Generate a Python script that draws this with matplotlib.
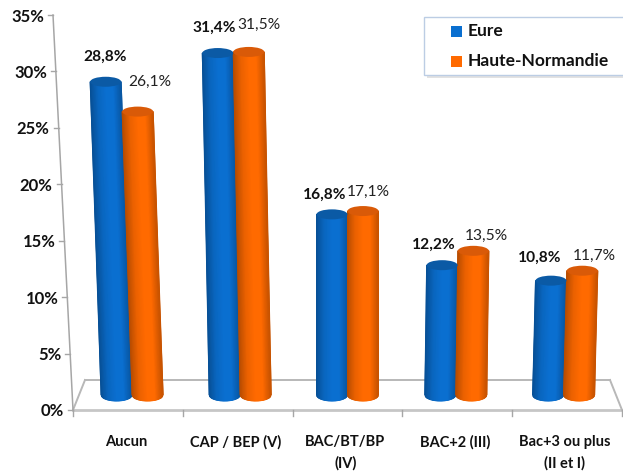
import numpy as np
import matplotlib
matplotlib.use("Agg")
import matplotlib.pyplot as plt
from matplotlib.patches import Ellipse, Rectangle
from matplotlib.colors import LinearSegmentedColormap, to_rgb

categories = ["Aucun", "CAP / BEP (V)", "BAC/BT/BP\n(IV)", "BAC+2 (III)", "Bac+3 ou plus\n(II et I)"]
eure = [28.8, 31.4, 16.8, 12.2, 10.8]
haute_normandie = [26.1, 31.5, 17.1, 13.5, 11.7]
eure_labels = ["28,8%", "31,4%", "16,8%", "12,2%", "10,8%"]
hn_labels = ["26,1%", "31,5%", "17,1%", "13,5%", "11,7%"]
yticks = [0, 5, 10, 15, 20, 25, 30, 35]
series_names = ["Eure", "Haute-Normandie"]

W, H = 623, 472
plt.rcParams["font.family"] = ["Lato", "DejaVu Sans"]
fig = plt.figure(figsize=(W / 100, H / 100), dpi=100)
L, R = 73, 622


def make_axes(bottom, top):
    a = fig.add_axes([L / W, 1 - bottom / H, (R - L) / W, (bottom - top) / H])
    a.set_xlim(-0.5, 4.5)
    a.set_ylim(0, 35)
    a.patch.set_alpha(0)
    a.axis("off")
    return a


# frame plane (axis, floor) and bar plane (slightly smaller scale, further back)
fr = make_axes(410, 15)
ax = make_axes(400, 13.25)

BLACK = "#111111"
GRAY = "#b8b8b8"
pxx = 5 / (R - L)
pxy_f = 35 / 395
pxy = 35 / 386.75

# floor
fr.plot([-0.5, 4.5], [0, 0], color="#c6c6c6", lw=2, clip_on=False)
fr.plot([-0.5 + 12 * pxx, 4.5 - 12 * pxx], [30 * pxy_f] * 2, color=GRAY, lw=1.4, clip_on=False)
fr.plot([-0.5, -0.5 + 12 * pxx], [0, 30 * pxy_f], color=GRAY, lw=1.4, clip_on=False)
fr.plot([4.5, 4.5 - 12 * pxx], [0, 30 * pxy_f], color=GRAY, lw=1.4, clip_on=False)

# slanted value axis
top_shift = -20 * pxx
fr.plot([-0.5, -0.5 + top_shift], [0, 35], color="#a6a6a6", lw=1.1, clip_on=False)
for v in yticks:
    x = -0.5 + top_shift * v / 35
    fr.plot([x - 5 * pxx, x], [v, v], color="#a6a6a6", lw=1, clip_on=False)
    fr.text(x - 9 * pxx, v - 1.5 * pxy_f, f"{v}%", ha="right", va="center", fontsize=12,
            fontweight="bold", color=BLACK, clip_on=False)

# category ticks and labels
for k in range(6):
    fr.plot([k - 0.5, k - 0.5], [0, -6 * pxy_f], color="#a6a6a6", lw=1, clip_on=False)
for i, cat in enumerate(categories):
    for j, line in enumerate(cat.split("\n")):
        fr.text(i - 0.02, (-32 - 21 * j) * pxy_f, line, ha="center", va="center",
                fontsize=10.5, fontweight="bold", color=BLACK, clip_on=False)

width = 31 * pxx
centre_shift = [4.2, 2.5, 0, -1.5, -3.5]
lean = [-0.38, -0.22, 0.0, 0.15, 0.27]


def shade(col):
    c = np.array(to_rgb(col))
    return LinearSegmentedColormap.from_list("s", [c * 0.72, c * 0.92, c, c, c * 0.78], N=256)


def cylinder(x0, val, col, topcol, slope):
    dx = slope * val * pxx
    ry = 5 * pxy
    t = np.linspace(0, 1, 41)
    drop = 6 * pxy * np.sqrt(np.clip(1 - (2 * t - 1) ** 2, 0, None))
    X = np.vstack([x0 + t * width, x0 + dx + t * width])
    Y = np.vstack([5 * pxy - drop, np.full_like(t, val)])
    C = np.vstack([t, t])
    ax.pcolormesh(X, Y, C, shading="gouraud", cmap=shade(col), vmin=0, vmax=1, zorder=3, clip_on=False)
    ax.add_patch(Ellipse((x0 + dx + width / 2, val), width, 2 * ry, fc=topcol, ec="none", zorder=4, clip_on=False))
    return x0 + dx + width / 2


# label offsets from the top centre of each cylinder, in pixels
offs_e = [(-1, 25), (-4, 25), (-7, 20), (-8.5, 20), (-11, 23)]
offs_h = [(12, 30), (10.5, 27), (5, 19), (13.5, 15), (12.5, 15)]
for i in range(5):
    left = i - width + centre_shift[i] * pxx
    xe = cylinder(left, eure[i], "#0a6fd0", "#0b5aa5", lean[i])
    xh = cylinder(left + width, haute_normandie[i], "#ff6a00", "#d95a08", lean[i])
    ax.annotate(eure_labels[i], (xe, eure[i]), xytext=(offs_e[i][0] * 0.72, offs_e[i][1] * 0.72),
                textcoords="offset points", ha="center", va="center", fontsize=11.2,
                fontweight="bold", color=BLACK, zorder=6, annotation_clip=False)
    ax.annotate(hn_labels[i], (xh, haute_normandie[i]), xytext=(offs_h[i][0] * 0.72, offs_h[i][1] * 0.72),
                textcoords="offset points", ha="center", va="center", fontsize=11.2,
                color="#222222", zorder=6, annotation_clip=False)

# legend box, running off the right edge as in the reference
fig.add_artist(Rectangle((427 / W, 1 - 78 / H), 205 / W, 58 / H, transform=fig.transFigure,
                         fc="#e2e2e2", ec="none", zorder=7))
fig.add_artist(Rectangle((424 / W, 1 - 75 / H), 205 / W, 58 / H, transform=fig.transFigure,
                         fc="white", ec="#bccde4", lw=1.0, zorder=8))
for name, col, y in zip(series_names, ["#0a6fd0", "#ff6a00"], [31.5, 61.5]):
    fig.add_artist(Rectangle((451 / W, 1 - (y + 5.5) / H), 11 / W, 11 / H, transform=fig.transFigure,
                             fc=col, ec="none", zorder=9))
    fig.text(468 / W, 1 - y / H, name, ha="left", va="center", fontsize=12.5, fontweight="bold",
             color=BLACK, zorder=9)

fig.savefig("out.png", dpi=100)
